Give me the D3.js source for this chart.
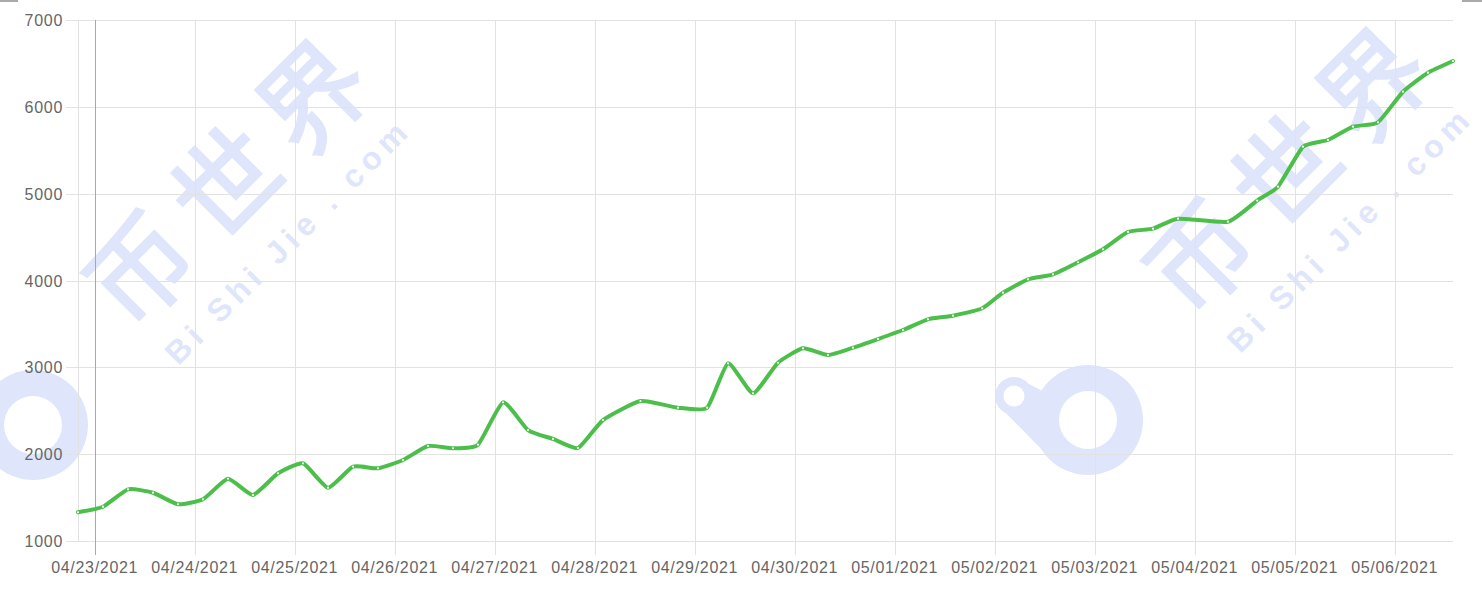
<!DOCTYPE html>
<html>
<head>
<meta charset="utf-8">
<script src="https://cdn.jsdelivr.net/npm/d3@7"></script>
<style>
  html, body { margin: 0; padding: 0; background: #fff; }
  svg { display: block; }
</style>
</head>
<body>
<svg id="chart" width="1482" height="610"></svg>
<script>
// ---- data ----
const times = [
  "2021-04-22T20:00",
  "2021-04-23T02:00","2021-04-23T08:00","2021-04-23T14:00","2021-04-23T20:00",
  "2021-04-24T02:00","2021-04-24T08:00","2021-04-24T14:00","2021-04-24T20:00",
  "2021-04-25T02:00","2021-04-25T08:00","2021-04-25T14:00","2021-04-25T20:00",
  "2021-04-26T02:00","2021-04-26T08:00","2021-04-26T14:00","2021-04-26T20:00",
  "2021-04-27T02:00","2021-04-27T08:00","2021-04-27T14:00","2021-04-27T20:00",
  "2021-04-28T02:00","2021-04-28T11:00","2021-04-28T20:00",
  "2021-04-29T03:00","2021-04-29T08:00","2021-04-29T14:00","2021-04-29T20:00",
  "2021-04-30T02:00","2021-04-30T08:00","2021-04-30T14:00","2021-04-30T20:00",
  "2021-05-01T02:00","2021-05-01T08:00","2021-05-01T14:00","2021-05-01T21:00",
  "2021-05-02T02:00","2021-05-02T08:00","2021-05-02T14:00","2021-05-02T20:00",
  "2021-05-03T02:00","2021-05-03T08:00","2021-05-03T14:00","2021-05-03T20:00",
  "2021-05-04T08:00","2021-05-04T15:00","2021-05-04T20:00",
  "2021-05-05T02:00","2021-05-05T08:00","2021-05-05T14:00","2021-05-05T20:00",
  "2021-05-06T02:00","2021-05-06T08:00","2021-05-06T14:00"
];
const values = [
  1331,
  1395,1595,1556,1423,
  1480,1717,1530,1780,
  1895,1614,1856,1837,
  1933,2094,2068,2109,
  2597,2278,2175,2071,
  2393,2612,2535,
  2535,3046,2701,3053,
  3219,3142,3226,3326,
  3430,3553,3595,3680,
  3860,4014,4071,4210,
  4359,4559,4597,4712,
  4677,4921,5080,
  5541,5618,5771,5822,
  6174,6393,6528
];
const xTickDates = [
  "2021-04-23","2021-04-24","2021-04-25","2021-04-26","2021-04-27",
  "2021-04-28","2021-04-29","2021-04-30","2021-05-01","2021-05-02",
  "2021-05-03","2021-05-04","2021-05-05","2021-05-06"
];
const yTicks = [1000, 2000, 3000, 4000, 5000, 6000, 7000];

(function () {
  const parseT = d3.timeParse("%Y-%m-%dT%H:%M");
  const parseD = d3.timeParse("%Y-%m-%d");
  const data = times.map((t, i) => ({ t: parseT(t), v: values[i] }));
  const tickDates = xTickDates.map(parseD);

  const pL = 78, pR = 1453, pT = 20, pB = 541;
  const x = d3.scaleTime().domain(d3.extent(data, d => d.t)).range([pL, pR]);
  const y = d3.scaleLinear().domain([1000, 7000]).range([pB, pT]);

  const svg = d3.select("#chart");
  const wmColor = "#dfe6fc";

  // ---- watermark (behind everything) ----
  const wm = svg.append("g");
  function ringLogo(cx, cy) {
    const g = wm.append("g");
    const sx = cx - 74, sy = cy - 24;
    g.append("circle").attr("cx", cx).attr("cy", cy).attr("r", 55).attr("fill", wmColor);
    g.append("circle").attr("cx", sx).attr("cy", sy).attr("r", 19).attr("fill", wmColor);
    g.append("path")
      .attr("d", `M${sx - 17},${sy + 8} L${sx + 15},${sy - 12} L${cx - 28},${cy - 20} L${cx - 38},${cy + 38} Z`)
      .attr("fill", wmColor);
    g.append("circle").attr("cx", cx).attr("cy", cy).attr("r", 29).attr("fill", "#fff");
    g.append("circle").attr("cx", sx).attr("cy", sy).attr("r", 10.5).attr("fill", "#fff");
  }
  function wmText(cx1, cy1, cx2, cy2) {
    wm.append("text")
      .attr("transform", `translate(${cx1},${cy1}) rotate(-45)`)
      .attr("text-anchor", "middle")
      .attr("dominant-baseline", "central")
      .attr("font-family", "'Noto Sans CJK SC', sans-serif")
      .attr("font-weight", 400)
      .attr("font-size", 104)
      .attr("letter-spacing", 18)
      .attr("fill", wmColor)
      .attr("stroke", wmColor)
      .attr("stroke-width", 2.5)
      .attr("stroke-linejoin", "miter")
      .text("币世界");
    wm.append("text")
      .attr("transform", `translate(${cx2},${cy2}) rotate(-45)`)
      .attr("text-anchor", "middle")
      .attr("dominant-baseline", "central")
      .attr("font-family", "'Liberation Sans', Arial, sans-serif")
      .attr("font-weight", 700)
      .attr("font-size", 32)
      .attr("letter-spacing", 6)
      .attr("fill", wmColor)
      .text("Bi Shi Jie . com");
  }
  ringLogo(33, 425);
  ringLogo(1088, 420);
  wmText(228, 172, 288, 241);
  wmText(1288, 160, 1350, 229);

  // ---- grid ----
  const grid = svg.append("g");
  grid.selectAll("line.h").data(yTicks).join("line")
    .attr("x1", pL - 12).attr("x2", pR)
    .attr("y1", d => Math.round(y(d)) + 0.5).attr("y2", d => Math.round(y(d)) + 0.5)
    .attr("stroke", "#e2e2e2").attr("stroke-width", 1);
  grid.append("line")
    .attr("x1", pL + 0.5).attr("x2", pL + 0.5)
    .attr("y1", pT).attr("y2", pB)
    .attr("stroke", "#e2e2e2");
  grid.selectAll("line.v").data(tickDates).join("line")
    .attr("x1", d => Math.round(x(d)) + 0.5).attr("x2", d => Math.round(x(d)) + 0.5)
    .attr("y1", pT).attr("y2", pB + 14)
    .attr("stroke", (d, i) => i === 0 ? "#a8a8a8" : "#e2e2e2").attr("stroke-width", 1);

  // ---- axis labels ----
  const fmt = d3.timeFormat("%m/%d/%Y");
  svg.append("g").selectAll("text").data(tickDates).join("text")
    .attr("x", d => x(d))
    .attr("y", 573)
    .attr("text-anchor", "middle")
    .attr("font-family", "'Liberation Sans', Arial, sans-serif")
    .attr("font-size", 16)
    .attr("letter-spacing", 0.7)
    .attr("fill", "#666")
    .text(d => fmt(d));
  svg.append("g").selectAll("text").data(yTicks).join("text")
    .attr("x", 63)
    .attr("y", d => y(d) + 6)
    .attr("text-anchor", "end")
    .attr("font-family", "'Liberation Sans', Arial, sans-serif")
    .attr("font-size", 16)
    .attr("letter-spacing", 0.7)
    .attr("fill", "#666")
    .text(d => d);

  // ---- line ----
  const line = d3.line()
    .x(d => x(d.t)).y(d => y(d.v))
    .curve(d3.curveCardinal.tension(0.5));
  svg.append("path")
    .datum(data)
    .attr("d", line)
    .attr("fill", "none")
    .attr("stroke", "#4cbe4a")
    .attr("stroke-width", 4)
    .attr("stroke-linejoin", "round")
    .attr("stroke-linecap", "round");
  svg.append("g").selectAll("circle").data(data).join("circle")
    .attr("cx", d => x(d.t)).attr("cy", d => y(d.v))
    .attr("r", 1.1).attr("fill", "#fff");

  // ---- small UI marks at top corners ----
  svg.append("rect").attr("x", 0).attr("y", 0).attr("width", 18).attr("height", 2).attr("fill", "#aaa");
  svg.append("rect").attr("x", 1462).attr("y", 0).attr("width", 20).attr("height", 2).attr("fill", "#aaa");
})();
</script>
</body>
</html>
